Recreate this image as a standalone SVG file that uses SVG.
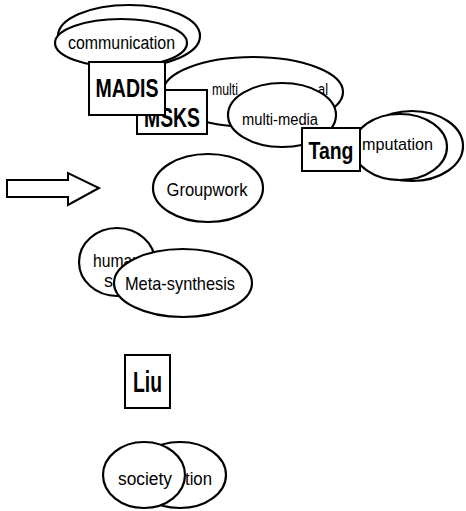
<svg xmlns="http://www.w3.org/2000/svg" width="466" height="511" viewBox="0 0 466 511">
  <style>
    .bg { fill: #ffffff; }
    .ell { fill: #ffffff; stroke: #000000; stroke-width: 2.2; }
    .box { fill: #ffffff; stroke: #000000; stroke-width: 2; }
    .lbl { font-family: "Liberation Sans Narrow", "Liberation Sans", Arial, sans-serif; fill: #000000; }
    .name { font-family: "Liberation Sans Narrow", "Liberation Sans", Arial, sans-serif; font-weight: bold; fill: #000000; }
  </style>
  <rect class="bg" x="0" y="0" width="466" height="511"/>

  <!-- block arrow on the left -->
  <g id="arrow">
    <polygon class="box" points="7,180 68,180 68,173 99,188 68,205 68,197 7,197"/>
  </g>

  <g id="communication">
    <ellipse class="ell" cx="129" cy="36" rx="71" ry="31"/>
    <ellipse class="ell" cx="121" cy="43" rx="66" ry="24"/>
    <text class="lbl" x="68" y="49" font-size="18" textLength="107" lengthAdjust="spacingAndGlyphs">communication</text>
  </g>

  <g id="multi">
    <ellipse class="ell" cx="253" cy="92" rx="90" ry="35"/>
    <text class="lbl" x="212" y="95" font-size="16" textLength="26" lengthAdjust="spacingAndGlyphs">multi</text>
    <text class="lbl" x="318" y="95" font-size="16" textLength="10" lengthAdjust="spacingAndGlyphs">al</text>
  </g>

  <g id="MSKS">
    <rect class="box" x="137" y="90" width="70" height="44"/>
    <text class="name" x="172" y="127" font-size="27" text-anchor="middle" textLength="56" lengthAdjust="spacingAndGlyphs">MSKS</text>
  </g>

  <g id="MADIS">
    <rect class="box" x="89" y="62" width="76" height="53"/>
    <text class="name" x="127" y="97" font-size="26" text-anchor="middle" textLength="63" lengthAdjust="spacingAndGlyphs">MADIS</text>
  </g>

  <g id="multi-media">
    <ellipse class="ell" cx="282" cy="115" rx="54" ry="32"/>
    <text class="lbl" x="280" y="125" font-size="16" text-anchor="middle" textLength="76" lengthAdjust="spacingAndGlyphs">multi-media</text>
  </g>

  <g id="computation">
    <ellipse class="ell" cx="412" cy="146" rx="51" ry="35"/>
    <ellipse class="ell" cx="400" cy="147" rx="47" ry="33"/>
    <text class="lbl" x="362" y="150" font-size="17" textLength="71" lengthAdjust="spacingAndGlyphs">mputation</text>
  </g>

  <g id="Tang">
    <rect class="box" x="302" y="128" width="58" height="43"/>
    <text class="name" x="331" y="159" font-size="24" text-anchor="middle" textLength="45" lengthAdjust="spacingAndGlyphs">Tang</text>
  </g>

  <g id="Groupwork">
    <ellipse class="ell" cx="208" cy="188" rx="55" ry="34"/>
    <text class="lbl" x="207" y="196" font-size="18" text-anchor="middle" textLength="81" lengthAdjust="spacingAndGlyphs">Groupwork</text>
  </g>

  <g id="human">
    <ellipse class="ell" cx="117" cy="262" rx="38" ry="34"/>
    <text class="lbl" x="93" y="267" font-size="18" textLength="48" lengthAdjust="spacingAndGlyphs">human</text>
    <text class="lbl" x="104" y="287" font-size="18">s</text>
  </g>

  <g id="Meta-synthesis">
    <ellipse class="ell" cx="183" cy="283" rx="69" ry="34"/>
    <text class="lbl" x="180" y="290" font-size="19" text-anchor="middle" textLength="110" lengthAdjust="spacingAndGlyphs">Meta-synthesis</text>
  </g>

  <g id="Liu">
    <rect class="box" x="125" y="355" width="45" height="53"/>
    <text class="name" x="147.5" y="392" font-size="29" text-anchor="middle" textLength="29" lengthAdjust="spacingAndGlyphs">Liu</text>
  </g>

  <g id="society">
    <ellipse class="ell" cx="180" cy="475" rx="46" ry="33"/>
    <text class="lbl" x="185" y="485" font-size="18" textLength="27" lengthAdjust="spacingAndGlyphs">tion</text>
    <ellipse class="ell" cx="144" cy="475" rx="41" ry="33"/>
    <text class="lbl" x="145" y="485" font-size="18" text-anchor="middle" textLength="54" lengthAdjust="spacingAndGlyphs">society</text>
  </g>

  <!-- no explicit connectors: the nodes touch and overlap directly -->
  <g id="connectors"/>
</svg>
